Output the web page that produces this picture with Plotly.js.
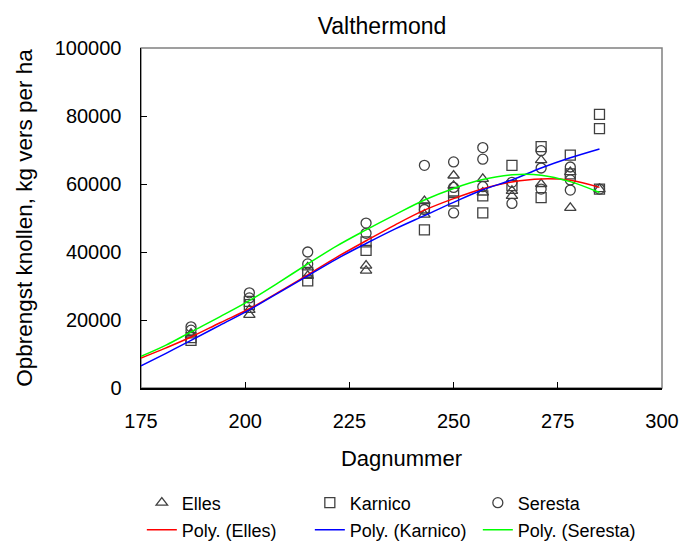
<!DOCTYPE html>
<html>
<head>
<meta charset="utf-8">
<script src="https://cdn.plot.ly/plotly-3.0.1.min.js"></script>
<style>html,body{margin:0;padding:0;background:#fff;}#chart{width:682px;height:543px;}</style>
</head>
<body>
<div id="chart"></div>
<script>
// Observations (day number, yield kg/ha)
const ellesDays = [187,187,201,201,215,215,229,229,243,243,250,250,257,257,264,264,271,271,278,278,285];
const ellesYield = [15500,16000,21500,23000,33000,35500,36000,34500,55000,51000,62500,59500,61500,57500,58000,56500,67000,60000,63500,53000,58500];

const karnicoDays = [187,187,201,201,215,215,229,229,243,243,250,250,257,257,264,264,271,271,278,278,285,285,285];
const karnicoYield = [14000,14800,24500,25500,31500,34000,40500,43000,46500,53000,55000,57500,51500,56500,65500,59500,71000,56000,68500,63000,80500,76300,58500];

const serestaDays = [187,187,201,201,215,215,229,229,243,243,250,250,250,257,257,257,264,264,271,271,271,278,278,278,285];
const serestaYield = [18000,17000,28000,26500,40000,36500,48500,45500,65500,52500,66500,59000,51500,70700,67300,59200,60500,54300,69800,64700,58500,65000,61200,58200,58500];

// Trendlines
const trendDays = [175,181,187,194,201,208,215,222,229,236,243,250,257,264,271,278,285];
const trendElles = [8800,11800,15000,19200,23300,28200,33300,38500,43300,48000,52300,55700,58600,60600,61500,61100,59000];
const trendKarnico = [6500,10200,14000,18500,23000,28000,33000,38000,42500,46800,50700,54600,58300,61200,64700,67700,70300];
const trendSeresta = [9300,12600,16500,21000,25700,31000,36500,41800,46500,51000,55300,58700,61300,62700,62600,60700,57500];

const markerColor = '#404040';
function pts(x, y, name, symbol) {
  return {x: x, y: y, name: name, type: 'scatter', mode: 'markers', legend: 'legend',
    marker: {symbol: symbol, size: 10, color: markerColor, line: {color: markerColor, width: 1.3}}};
}
function trend(x, y, name, color) {
  return {x: x, y: y, name: name, type: 'scatter', mode: 'lines', legend: 'legend2',
    line: {color: color, width: 1.5, shape: 'spline'}};
}

const data = [
  pts(ellesDays, ellesYield, 'Elles', 'triangle-up-open'),
  pts(karnicoDays, karnicoYield, 'Karnico', 'square-open'),
  pts(serestaDays, serestaYield, 'Seresta', 'circle-open'),
  trend(trendDays, trendElles, 'Poly. (Elles)', '#ff0000'),
  trend(trendDays, trendKarnico, 'Poly. (Karnico)', '#0000ff'),
  trend(trendDays, trendSeresta, 'Poly. (Seresta)', '#00ff00')
];

const fontFam = '"Liberation Sans", Arial, sans-serif';
const layout = {
  width: 682, height: 543,
  margin: {l: 141, r: 20, t: 48, b: 155, autoexpand: false},
  paper_bgcolor: '#ffffff', plot_bgcolor: '#ffffff',
  font: {family: fontFam, color: '#000000', size: 20},
  title: {text: 'Valthermond', font: {size: 23, family: fontFam}, x: 0.4626, xref: 'paper', xanchor: 'center', y: 1, yref: 'paper', yanchor: 'bottom', pad: {b: 14}},
  xaxis: {
    range: [175, 300], dtick: 25, tick0: 175,
    showgrid: false, zeroline: false,
    showline: true, linecolor: '#000000', linewidth: 1.5,
    ticks: 'inside', ticklen: 6, tickcolor: '#000000', tickwidth: 1,
    tickfont: {size: 20}, ticklabelstandoff: 14,
    title: {text: 'Dagnummer', font: {size: 22}, standoff: 20}
  },
  yaxis: {
    range: [0, 100000], dtick: 20000, tick0: 0, tickformat: 'd',
    showgrid: false, zeroline: false,
    showline: true, linecolor: '#000000', linewidth: 1.5,
    ticks: 'inside', ticklen: 6, tickcolor: '#000000', tickwidth: 1,
    tickfont: {size: 20}, ticklabelstandoff: 14,
    title: {text: 'Opbrengst knollen, kg vers per ha', font: {size: 22.5}, standoff: 16}
  },
  shapes: [{type: 'rect', xref: 'paper', yref: 'paper', x0: 0, x1: 1, y0: 0, y1: 1,
    line: {color: '#808080', width: 1.5}, layer: 'below'}],
  showlegend: true,
  legend: {orientation: 'h', x: 0.0016, xanchor: 'left', yref: 'container', y: 0.0737, yanchor: 'middle',
    entrywidth: 123, font: {size: 18}, bgcolor: 'rgba(0,0,0,0)', tracegroupgap: 0},
  legend2: {orientation: 'h', x: 0.0016, xanchor: 'left', yref: 'container', y: 0.024, yanchor: 'middle',
    entrywidth: 123, font: {size: 18}, bgcolor: 'rgba(0,0,0,0)', tracegroupgap: 0}
};

Plotly.newPlot('chart', data, layout, {displayModeBar: false, staticPlot: true});
</script>
</body>
</html>
